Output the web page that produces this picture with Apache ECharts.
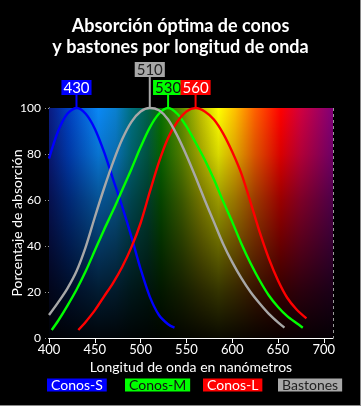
<!DOCTYPE html>
<html>
<head>
<meta charset="utf-8">
<script src="https://cdn.jsdelivr.net/npm/echarts@6/dist/echarts.min.js"></script>
<style>
html,body{margin:0;padding:0;background:#000;}
#c{width:361px;height:406px;}
</style>
</head>
<body>
<div id="c"></div>
<script>
// ---- data ----
var seriesNames = ['Conos-S', 'Conos-M', 'Conos-L', 'Bastones'];
var peakWave = [430, 530, 560, 510];

var sWave = [400, 410, 420, 430, 440, 450, 460, 470, 480, 490, 500, 510, 520, 530, 537];
var sVal  = [78, 90, 97.5, 100, 97.5, 91, 81, 69, 57, 44, 30, 18, 10, 6, 4.5];

var mWave = [403, 410, 420, 430, 440, 450, 460, 470, 480, 490, 500, 510, 520, 530, 540, 550, 560, 570, 580, 590, 600, 610, 620, 630, 640, 650, 660, 670, 677];
var mVal  = [3.5, 7.5, 14, 21, 29, 38, 47, 55.5, 64.5, 73.5, 83, 91.5, 97.5, 100, 97.5, 92, 85, 77.5, 69, 59.5, 50.5, 41, 32.5, 25, 18.5, 13.5, 9.5, 6.5, 4.5];

var lWave = [432, 440, 450, 460, 470, 480, 490, 500, 510, 520, 530, 540, 550, 560, 570, 580, 590, 600, 610, 620, 630, 640, 650, 660, 670, 681];
var lVal  = [3.5, 7, 12, 18, 24, 31, 39.5, 50, 63.5, 76.5, 87, 94, 98.5, 100, 98.5, 95, 89, 81, 71.5, 59, 46, 34.5, 25, 17.5, 12.5, 8.5];

var rWave = [400, 410, 420, 430, 440, 450, 460, 470, 480, 490, 500, 510, 520, 530, 540, 550, 560, 570, 580, 590, 600, 610, 620, 630, 640, 650, 657];
var rVal  = [10, 15.5, 21.5, 29, 39.5, 52.5, 65, 76.5, 86.5, 94, 98.5, 100, 99, 95, 88, 79.5, 70, 60, 50.5, 41, 33, 26, 20, 15, 10.5, 6.8, 4.5];

var xTicksMin = 400, xTicksMax = 710, xInterval = 50;
var yMin = 0, yMax = 100, yInterval = 20;

// ---- styles ----
var colors = ['#0000ff', '#00ff00', '#ff0000', '#a8a8a8'];
var labelText = ['#ffffff', '#111111', '#ffffff', '#222222'];
var stemLen = [13, 13, 13, 31];
var legendLeft = [42, 120, 198, 273];
var FONT = 'Lato';

function pairs(w, v) { return w.map(function (x, i) { return [x, v[i]]; }); }
var allData = [pairs(sWave, sVal), pairs(mWave, mVal), pairs(lWave, lVal), pairs(rWave, rVal)];

var chart = echarts.init(document.getElementById('c'), null, {renderer: 'canvas'});

var spectrum = new echarts.graphic.LinearGradient(0, 0, 1, 0, [
  {offset: 0.000, color: '#0a1a80'},
  {offset: 0.068, color: '#0040c0'},
  {offset: 0.174, color: '#0a88f5'},
  {offset: 0.235, color: '#0a80d0'},
  {offset: 0.290, color: '#007080'},
  {offset: 0.348, color: '#006048'},
  {offset: 0.394, color: '#087000'},
  {offset: 0.468, color: '#609000'},
  {offset: 0.535, color: '#c0c000'},
  {offset: 0.597, color: '#ffff00'},
  {offset: 0.655, color: '#ffc000'},
  {offset: 0.726, color: '#ff6000'},
  {offset: 0.816, color: '#ff0000'},
  {offset: 0.887, color: '#d00040'},
  {offset: 1.000, color: '#800078'}
]);
var shade = new echarts.graphic.LinearGradient(0, 0, 0, 1, [
  {offset: 0.0, color: 'rgba(0,0,0,0)'},
  {offset: 0.2, color: 'rgba(0,0,0,0.15)'},
  {offset: 0.4, color: 'rgba(0,0,0,0.4)'},
  {offset: 0.6, color: 'rgba(0,0,0,0.6)'},
  {offset: 0.8, color: 'rgba(0,0,0,0.8)'},
  {offset: 1.0, color: 'rgba(0,0,0,0.96)'}
]);

var series = [
  {
    type: 'line', data: [], silent: true, z: 0,
    markArea: {silent: true, itemStyle: {color: spectrum}, data: [[{xAxis: xTicksMin, yAxis: yMax}, {xAxis: xTicksMax, yAxis: yMin}]]}
  },
  {
    type: 'line', data: [], silent: true, z: 0,
    markArea: {silent: true, itemStyle: {color: shade}, data: [[{xAxis: xTicksMin, yAxis: yMax}, {xAxis: xTicksMax, yAxis: yMin}]]}
  }
];
seriesNames.forEach(function (n, i) {
  series.push({
    name: n, type: 'line', data: allData[i], smooth: 0.3, showSymbol: false, clip: false,
    lineStyle: {color: colors[i], width: 2.4}, itemStyle: {color: colors[i]}, z: 3,
    markPoint: {
      silent: true, symbol: 'rect', symbolSize: [2, stemLen[i]], symbolOffset: [0, -stemLen[i] / 2],
      itemStyle: {color: colors[i]},
      label: {
        show: true, position: 'top', distance: 0, formatter: String(peakWave[i]),
        color: labelText[i], backgroundColor: colors[i], fontFamily: FONT, fontSize: 15,
        padding: [1, 2, 0, 2], lineHeight: 14
      },
      data: [{coord: [peakWave[i], 100]}]
    }
  });
});

chart.setOption({
  backgroundColor: '#000',
  animation: false,
  textStyle: {fontFamily: FONT},
  title: {
    text: 'Absorción óptima de conos\ny bastones por longitud de onda',
    left: 'center', top: 11,
    textStyle: {color: '#fff', fontSize: 18, fontWeight: 'bold', lineHeight: 21, fontFamily: FONT}
  },
  legend: seriesNames.map(function (n, i) {
    return {
      left: legendLeft[i], top: 378, padding: 0, icon: 'none', itemWidth: 0, itemHeight: 0,
      selectedMode: false,
      data: [{name: n, textStyle: {color: labelText[i], backgroundColor: colors[i], fontSize: 14, padding: [0, 4, 0, 4], lineHeight: 13, fontFamily: FONT}}]
    };
  }),
  grid: {left: 49, right: 28, top: 108, bottom: 68, containLabel: false, outerBoundsMode: 'none'},
  xAxis: {
    type: 'value', min: xTicksMin, max: xTicksMax, interval: xInterval,
    name: 'Longitud de onda en nanómetros', nameLocation: 'middle', nameGap: 22, nameMoveOverlap: false,
    nameTextStyle: {color: '#fff', fontSize: 14, fontFamily: FONT},
    axisLine: {show: true, lineStyle: {color: '#ffffff', width: 1}},
    axisTick: {show: true, length: 5, lineStyle: {color: '#ffffff'}},
    axisLabel: {color: '#fff', fontSize: 13, margin: 5, showMaxLabel: false, fontFamily: FONT},
    splitLine: {show: true, lineStyle: {color: 'rgba(255,255,255,0.6)', type: [3, 3]}}
  },
  yAxis: {
    type: 'value', min: yMin, max: yMax, interval: yInterval,
    name: 'Porcentaje de absorción', nameLocation: 'middle', nameGap: 25, nameRotate: 90, nameMoveOverlap: false,
    nameTextStyle: {color: '#fff', fontSize: 14, fontFamily: FONT},
    axisLine: {show: true, lineStyle: {color: '#ffffff', width: 1}},
    axisTick: {show: true, length: 6, lineStyle: {color: 'rgba(255,255,255,0.6)', type: [1, 2]}},
    axisLabel: {color: '#fff', fontSize: 12, margin: 8, fontFamily: FONT},
    splitLine: {show: true, lineStyle: {color: 'rgba(255,255,255,0.6)', type: [3, 3]}}
  },
  graphic: [
    {type: 'line', shape: {x1: 360.5, y1: 0, x2: 360.5, y2: 406}, style: {stroke: '#8a8a8a', lineWidth: 1}, silent: true},
    {type: 'line', shape: {x1: 0, y1: 405.5, x2: 361, y2: 405.5}, style: {stroke: '#8a8a8a', lineWidth: 1}, silent: true}
  ],
  series: series
});
</script>
</body>
</html>
